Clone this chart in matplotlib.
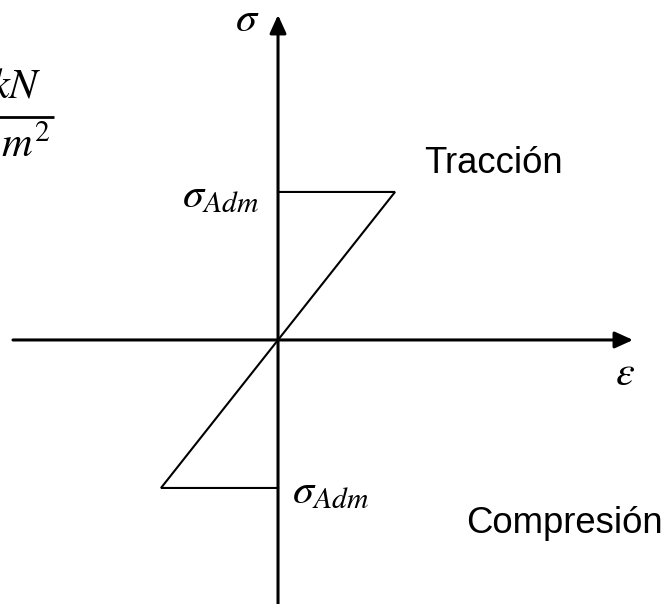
"""
Stress-strain diagram (elastic, symmetric tension/compression limits).
Saves out.png.
"""

import matplotlib
matplotlib.use("Agg")
import matplotlib.pyplot as plt

# Normalised diagram values (strain, stress); 1.0 = admissible limit.
SIGMA_ADM = 1.0
EPS_ADM = 1.0
path_strain = [0.0, -EPS_ADM, EPS_ADM, 0.0]
path_stress = [-SIGMA_ADM, -SIGMA_ADM, SIGMA_ADM, SIGMA_ADM]

# Axis extents in the same units.
X_AXIS = [-2.265, 3.034]
Y_AXIS = [-1.80, 2.196]

LABEL_TENSION = "Tracción"
LABEL_COMPRESSION = "Compresión"
LABEL_SIGMA = r"$\sigma$"
LABEL_EPS = r"$\varepsilon$"
LABEL_ADM = r"$\sigma_{Adm}$"
UNIT_NUM = r"$kN$"
UNIT_DEN = r"$m^2$"


def setup_style():
    plt.rcParams.update({
        "mathtext.fontset": "stix",
        "font.family": ["Liberation Sans", "DejaVu Sans"],
    })


def main():
    setup_style()

    fig = plt.figure(figsize=(6.7, 6.04), dpi=100)
    ax = fig.add_axes([0, 0, 1, 1])
    ax.set_xlim(-2.376, 3.350)
    ax.set_ylim(-1.784, 2.297)
    ax.axis("off")

    arrow = dict(arrowstyle="-|>,head_length=0.55,head_width=0.25",
                 color="black", lw=2.2, mutation_scale=20,
                 shrinkA=0, shrinkB=0)

    # Coordinate axes.
    ax.annotate("", xy=(X_AXIS[1], 0), xytext=(X_AXIS[0], 0), arrowprops=arrow)
    ax.annotate("", xy=(0, Y_AXIS[1]), xytext=(0, Y_AXIS[0]), arrowprops=arrow)

    # Diagram.
    ax.plot(path_strain, path_stress, color="black", lw=1.5,
            solid_joinstyle="miter")

    math_size = 30.5
    text_size = 26.3

    ax.text(-0.265, 2.162, LABEL_SIGMA, fontsize=math_size,
            ha="center", va="center")
    ax.text(2.966, -0.23, LABEL_EPS, fontsize=math_size,
            ha="center", va="center")

    ax.annotate(LABEL_ADM, xy=(0, SIGMA_ADM), xytext=(-14, -3),
                textcoords="offset points", fontsize=math_size,
                ha="right", va="center")
    ax.annotate(LABEL_ADM, xy=(0, -SIGMA_ADM), xytext=(10, -3),
                textcoords="offset points", fontsize=math_size,
                ha="left", va="center")

    ax.text(1.838, 1.128, LABEL_TENSION, fontsize=text_size,
            ha="center", va="baseline")
    ax.text(2.444, -1.304, LABEL_COMPRESSION, fontsize=text_size,
            ha="center", va="baseline")

    # Units (partly cut off at the left edge, as in the original).
    ax.text(-2.017, 1.635, UNIT_NUM, fontsize=math_size,
            ha="right", va="baseline")
    ax.plot([-2.45, -1.915], [1.507, 1.507], color="black", lw=2.0,
            solid_capstyle="butt")
    ax.text(-1.949, 1.236, UNIT_DEN, fontsize=math_size,
            ha="right", va="baseline")

    fig.savefig("out.png", dpi=100)
    plt.close(fig)


if __name__ == "__main__":
    main()
